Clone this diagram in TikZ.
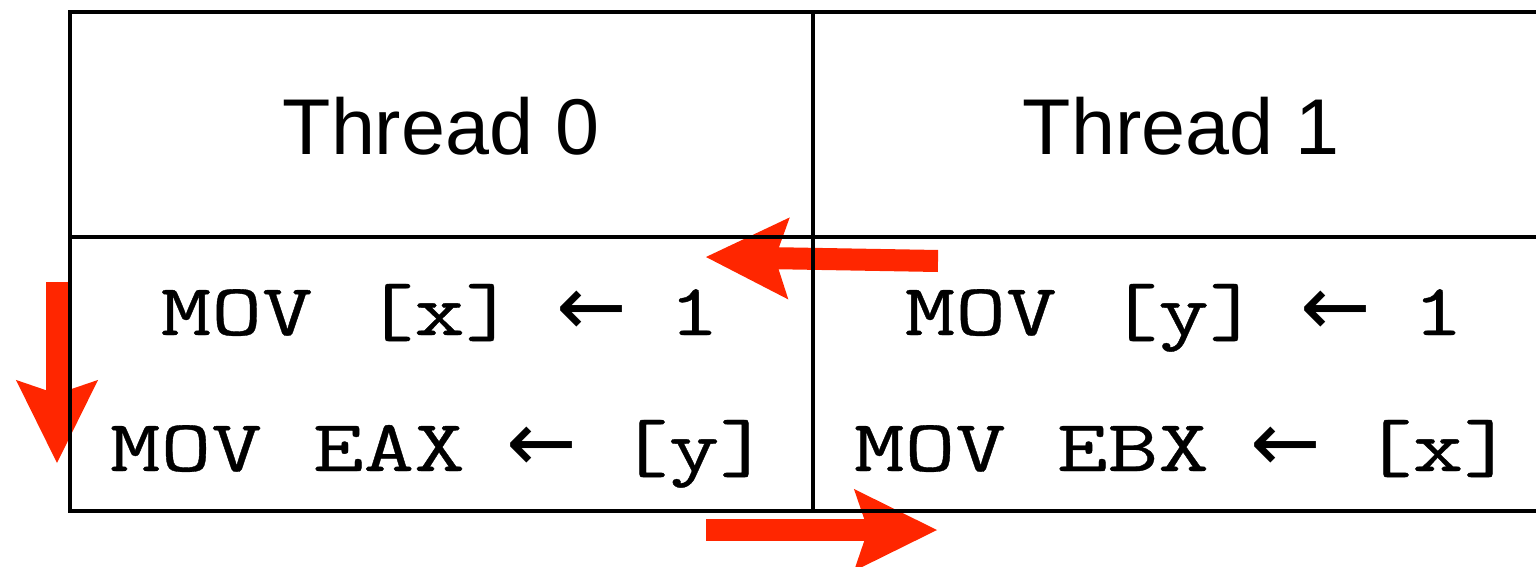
\documentclass[tikz,border=0pt]{standalone}
\usepackage{fontspec}
\setmainfont{Liberation Sans}
\newfontfamily\codefont{Latin Modern Mono}[FakeStretch=1.34, FakeBold=0.5]
\newfontfamily\arrowfont{DejaVu Sans}
\usetikzlibrary{arrows.meta, positioning}
\definecolor{flowred}{RGB}{255,38,0}

% one character cell of the code font holding the assignment arrow
\newcommand{\getsarrow}{\makebox[0.515cm][c]{\arrowfont\fontsize{24}{28}\selectfont ←}}

\tikzset{
  rule/.style={line width=0.04cm, black},
  head/.style={anchor=base, inner sep=0pt, font=\fontsize{22.5}{27}\selectfont},
  code/.style={anchor=base, inner sep=0pt, font=\codefont\fontsize{20.9}{26}\selectfont},
  flow/.style={draw=flowred, fill=flowred, line width=0.22cm,
    -{Stealth[length=0.83cm, width=0.82cm, inset=0.14cm, line width=0pt]}}
}

\begin{document}
\begin{tikzpicture}[x=0.01cm, y=-0.01cm]
    \useasboundingbox (0,0) rectangle (1536,567);

    % red order arrows (under the table rules)
    \coordinate (wx) at (938,261);
    \coordinate (wxend) at (706,257);
    \coordinate (rd) at (57,282);
    \coordinate (rdend) at (57,463);
    \coordinate (wy) at (706,530);
    \coordinate (wyend) at (937,530);
    \draw[flow] (wx) -- (wxend);
    \draw[flow] (rd) -- (rdend);
    \draw[flow] (wy) -- (wyend);

    % table
    \draw[rule] (1536,12) -| (70,511) -- (1536,511);
    \draw[rule] (70,237) -- (1536,237);
    \draw[rule] (813,12) -- (813,511);

    \node[head] (th0) at (441,155) {Thread 0};
    \node[head] (th1) at (1181,155) {Thread 1};

    \node[code] (st0) at (440,335) {MOV [x] \getsarrow{} 1};
    \node[code] (ld0) at (440,471) {MOV EAX \getsarrow{} [y]};
    \node[code] (st1) at (1184,335) {MOV [y] \getsarrow{} 1};
    \node[code] (ld1) at (1184,471) {MOV EBX \getsarrow{} [x]};
\end{tikzpicture}
\end{document}
